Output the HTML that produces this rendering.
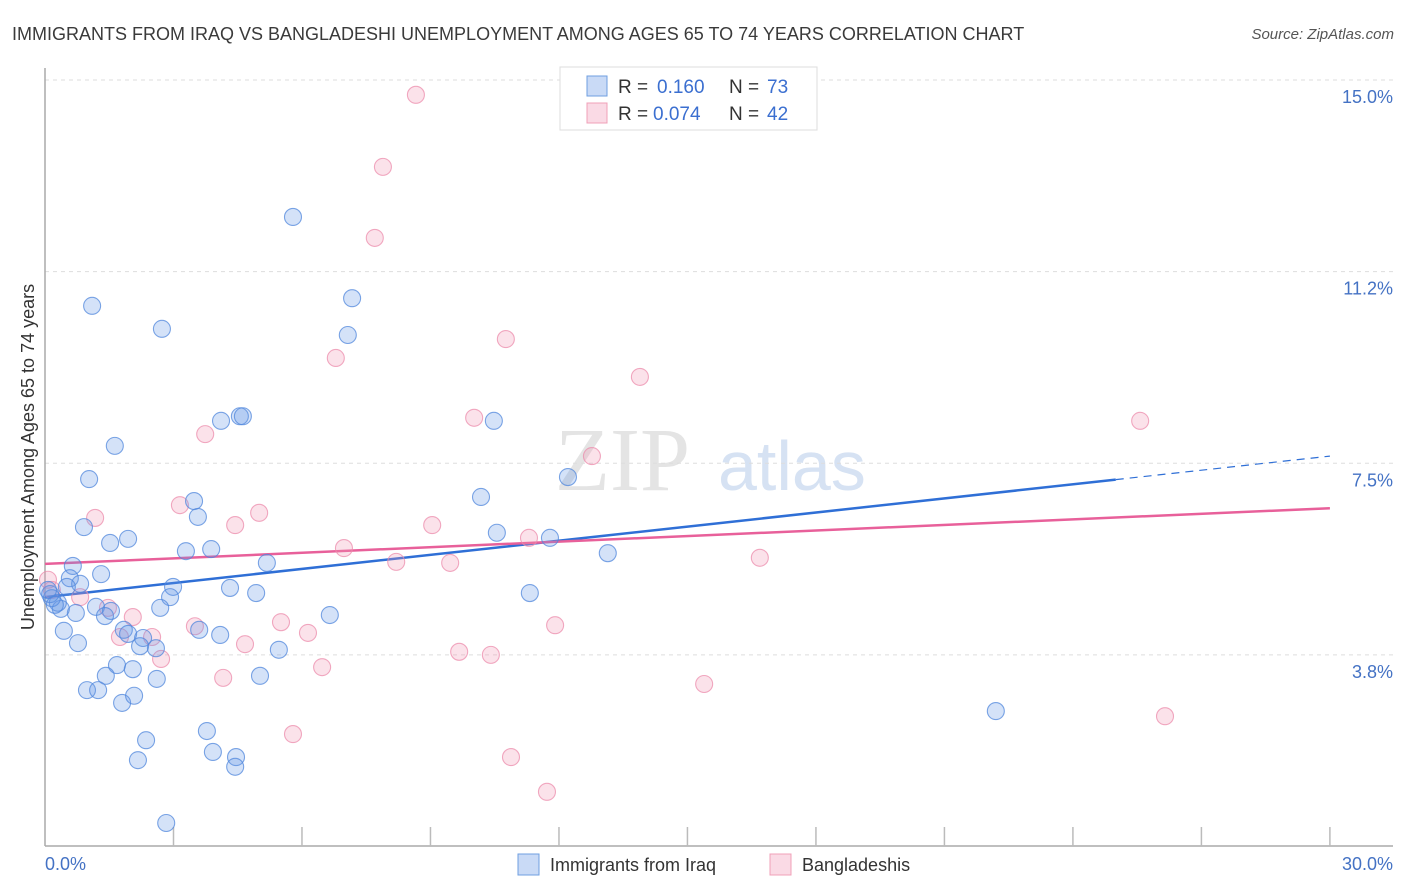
<!DOCTYPE html>
<html><head><meta charset="utf-8"><style>
body{margin:0;background:#fff;font-family:"Liberation Sans",sans-serif;}
svg{display:block}
</style></head><body>
<svg width="1406" height="892" xmlns="http://www.w3.org/2000/svg">
<text x="12" y="40" font-size="18" fill="#3a3a3a">IMMIGRANTS FROM IRAQ VS BANGLADESHI UNEMPLOYMENT AMONG AGES 65 TO 74 YEARS CORRELATION CHART</text>
<text x="1394" y="39" font-size="15" fill="#555" text-anchor="end" font-style="italic">Source: ZipAtlas.com</text>
<g>
<text x="555" y="490" font-size="90" fill="#e4e4e4" font-family="Liberation Serif,serif">ZIP</text>
<text x="718" y="490" font-size="70" fill="#d6e2f3">atlas</text>
</g>
<g id="grid"></g>
<g id="axes"></g>
<g id="lines"></g>
<g id="pts"></g>
<text transform="translate(34,457) rotate(-90)" font-size="18" fill="#333" text-anchor="middle">Unemployment Among Ages 65 to 74 years</text>
<text x="45" y="870" font-size="18" fill="#4472c4">0.0%</text>
<text x="1393" y="870" font-size="18" fill="#4472c4" text-anchor="end">30.0%</text>
<g>
<rect x="560" y="67" width="257" height="63" fill="#fff" stroke="#ddd"/>
<rect x="587" y="76" width="20" height="20" fill="rgba(100,150,230,0.35)" stroke="#6f9fe0"/>
<text x="618" y="93" font-size="19" fill="#333">R =</text>
<text x="657" y="93" font-size="19" fill="#3b6fd0">0.160</text>
<text x="729" y="93" font-size="19" fill="#333">N =</text>
<text x="767" y="93" font-size="19" fill="#3b6fd0">73</text>
<rect x="587" y="103" width="20" height="20" fill="rgba(240,150,180,0.35)" stroke="#f0a0b8"/>
<text x="618" y="120" font-size="19" fill="#333">R =</text>
<text x="653" y="120" font-size="19" fill="#3b6fd0">0.074</text>
<text x="729" y="120" font-size="19" fill="#333">N =</text>
<text x="767" y="120" font-size="19" fill="#3b6fd0">42</text>
</g>
<g>
<rect x="518" y="854" width="21" height="21" fill="rgba(100,150,230,0.35)" stroke="#6f9fe0"/>
<text x="550" y="871" font-size="18" fill="#333">Immigrants from Iraq</text>
<rect x="770" y="854" width="21" height="21" fill="rgba(240,150,180,0.35)" stroke="#f0a0b8"/>
<text x="802" y="871" font-size="18" fill="#333">Bangladeshis</text>
</g>
</svg>
<script>
const yTicks=[15.0,11.25,7.5,3.75];
const yTickLabels=["15.0%","11.2%","7.5%","3.8%"];
const xTicks=[3,6,9,12,15,18,21,24,27,30];
const iraqX=[1.10,2.73,5.79,7.17,7.07,1.63,1.03,4.11,4.55,4.62,10.48,0.91,1.52,1.94,3.48,3.57,3.29,3.88,5.18,10.18,10.55,11.79,12.21,13.14,0.65,0.58,1.31,0.82,0.51,2.99,4.32,4.93,2.92,2.69,1.19,1.54,0.72,1.40,0.37,0.30,0.16,0.12,0.07,0.23,0.44,0.77,1.84,1.94,2.29,2.22,2.59,3.60,4.09,5.46,6.65,11.32,1.68,2.05,1.42,2.61,0.98,1.24,1.80,2.08,5.02,3.78,2.36,3.92,4.46,4.44,2.17,2.83,22.20];
const iraqY=[10.58,10.13,12.32,10.73,10.01,7.84,7.19,8.33,8.42,8.42,8.33,6.25,5.94,6.02,6.76,6.45,5.78,5.82,5.55,6.84,6.14,6.04,7.23,5.74,5.49,5.25,5.33,5.14,5.08,5.08,5.06,4.96,4.88,4.67,4.69,4.61,4.57,4.51,4.65,4.77,4.86,4.94,5.02,4.73,4.22,3.98,4.24,4.16,4.08,3.92,3.88,4.24,4.14,3.85,4.53,4.96,3.55,3.47,3.34,3.28,3.06,3.06,2.81,2.95,3.34,2.26,2.08,1.85,1.75,1.56,1.69,0.46,2.65];
const bangX=[8.66,7.89,7.70,6.79,10.76,13.89,10.02,3.74,12.77,25.57,1.17,3.15,5.00,4.44,9.04,6.98,11.30,8.20,9.46,16.69,0.07,0.16,0.82,1.47,2.05,1.75,2.50,2.71,3.50,5.51,6.14,4.67,6.47,4.16,9.67,10.41,11.91,15.39,5.79,26.15,10.88,11.72];
const bangY=[14.71,13.30,11.91,9.56,9.93,9.19,8.39,8.07,7.64,8.33,6.43,6.68,6.53,6.29,6.29,5.84,6.04,5.57,5.55,5.65,5.22,5.02,4.88,4.67,4.49,4.10,4.10,3.67,4.31,4.39,4.18,3.96,3.51,3.30,3.81,3.75,4.33,3.18,2.20,2.55,1.75,1.07];
const iraqTrend=[4.88,7.64]; const iraqSolidEnd=25;
const bangTrend=[5.53,6.62];
const NS='http://www.w3.org/2000/svg';
const X=v=>45+v*42.83, Y=v=>80+(15-v)*51.1;
function mk(t,a,p){const e=document.createElementNS(NS,t);for(const k in a)e.setAttribute(k,a[k]);p.appendChild(e);return e;}
const grid=document.getElementById('grid'),axes=document.getElementById('axes'),lines=document.getElementById('lines'),pts=document.getElementById('pts');
yTicks.forEach((t,i)=>{
 const l=mk('line',{x1:45,x2:1393,y1:Y(t),y2:Y(t),stroke:'#ddd','stroke-dasharray':'4,4'},grid);
 
 
 const tx=mk('text',{x:1393,y:Y(t)+23,'font-size':18,fill:'#4472c4','text-anchor':'end'},grid);
 tx.textContent=yTickLabels[i];
 
 
});
const ya=mk('line',{x1:45,x2:45,y1:68,y2:846,stroke:'#aaa','stroke-width':1.5},axes);


const xa=mk('line',{x1:45,x2:1393,y1:846,y2:846,stroke:'#aaa','stroke-width':1.5},axes);


xTicks.forEach(t=>{
 const l=mk('line',{x1:X(t),x2:X(t),y1:827,y2:846,stroke:'#bbb','stroke-width':1.5},axes);
 
 
});
function trend(a,end,col,name){
 const yAt=x=>a[0]+(a[1]-a[0])*x/30;
 const s=mk('line',{x1:X(0),y1:Y(a[0]),x2:X(end),y2:Y(yAt(end)),stroke:col,'stroke-width':2.5},lines);
 
 
 if(end<30){const d=mk('line',{x1:X(end),y1:Y(yAt(end)),x2:X(30),y2:Y(a[1]),stroke:col,'stroke-width':1.2,'stroke-dasharray':'8,6'},lines);
 
 }
}
function dots(xs,ys,fill,stroke,name){
 xs.forEach((x,i)=>{const c=mk('circle',{cx:X(x),cy:Y(ys[i]),r:8.5,fill:fill,stroke:stroke,'stroke-width':1.1},pts);
 
 });
}
dots(bangX,bangY,'rgba(240,150,180,0.28)','rgba(236,140,172,0.75)','bangladeshi-point');
dots(iraqX,iraqY,'rgba(100,150,230,0.28)','rgba(80,135,220,0.75)','iraq-point');
trend(iraqTrend,iraqSolidEnd,'#2f6fd6','iraq-trend-line');
trend(bangTrend,30,'#e8609a','bangladeshi-trend-line');
</script>
</body></html>
